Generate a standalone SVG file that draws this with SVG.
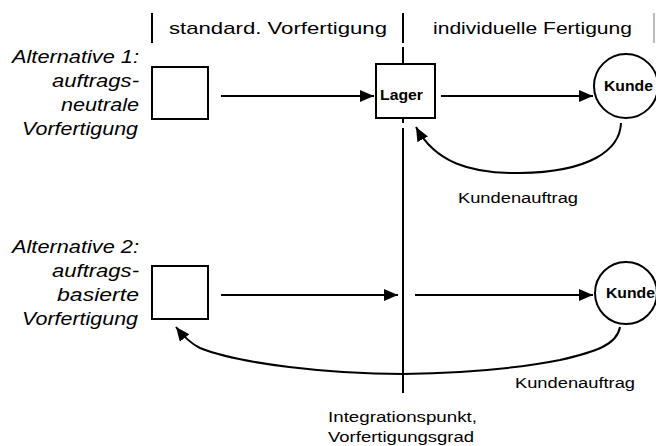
<svg xmlns="http://www.w3.org/2000/svg" width="656" height="446" viewBox="0 0 656 446">
<style>
.ln{stroke:#000;stroke-width:2;fill:none}
.bx{stroke:#000;stroke-width:2;fill:#fff}
.t{font-family:"Liberation Sans",Arial,sans-serif;fill:#000}
.it{font-family:"Liberation Sans",Arial,sans-serif;font-style:italic;font-size:18px;fill:#000}
.b{font-family:"Liberation Sans",Arial,sans-serif;font-weight:bold;fill:#000}
</style>
<defs>
<marker id="ah" markerUnits="userSpaceOnUse" markerWidth="15" markerHeight="13" refX="14" refY="6" orient="auto" viewBox="0 0 15 13">
<path d="M0,0 L14,6 L0,12 z" fill="#000"/>
</marker>
</defs>
<rect width="656" height="446" fill="#fff"/>
<g id="header">
<line class="ln" x1="152" y1="13" x2="152" y2="43"/>
<line x1="654" y1="13" x2="654" y2="43" stroke="#bbb" stroke-width="2"/>
<text class="t" x="169" y="34" font-size="17" textLength="218" lengthAdjust="spacingAndGlyphs">standard. Vorfertigung</text>
<text class="t" x="433" y="34" font-size="17" textLength="199" lengthAdjust="spacingAndGlyphs">individuelle Fertigung</text>
</g>
<g id="integrationspunkt">
<line class="ln" x1="403" y1="13" x2="403" y2="43"/>
<line class="ln" x1="403" y1="47" x2="403" y2="64"/>
<line class="ln" x1="403" y1="118" x2="403" y2="123"/>
<line class="ln" x1="403" y1="128" x2="403" y2="393"/>
<text class="t" x="328" y="422" font-size="15.5" textLength="149" lengthAdjust="spacingAndGlyphs">Integrationspunkt,</text>
<text class="t" x="328" y="442" font-size="15.5" textLength="146" lengthAdjust="spacingAndGlyphs">Vorfertigungsgrad</text>
</g>
<g id="alt1-label">
<text class="it" x="12" y="63" textLength="127" lengthAdjust="spacingAndGlyphs">Alternative 1:</text>
<text class="it" x="52" y="87" textLength="87" lengthAdjust="spacingAndGlyphs">auftrags-</text>
<text class="it" x="61" y="111" textLength="78" lengthAdjust="spacingAndGlyphs">neutrale</text>
<text class="it" x="22" y="135" textLength="116" lengthAdjust="spacingAndGlyphs">Vorfertigung</text>
</g>
<g id="alt2-label">
<text class="it" x="12" y="253" textLength="127" lengthAdjust="spacingAndGlyphs">Alternative 2:</text>
<text class="it" x="52" y="277" textLength="87" lengthAdjust="spacingAndGlyphs">auftrags-</text>
<text class="it" x="57" y="301" textLength="82" lengthAdjust="spacingAndGlyphs">basierte</text>
<text class="it" x="22" y="325" textLength="116" lengthAdjust="spacingAndGlyphs">Vorfertigung</text>
</g>
<g id="box1"><rect class="bx" x="152" y="67" width="56" height="52"/></g>
<g id="lager"><rect class="bx" x="376" y="64" width="59" height="54"/>
<text class="b" x="380" y="100" font-size="14" textLength="43" lengthAdjust="spacingAndGlyphs">Lager</text></g>
<g id="kunde1"><circle class="bx" cx="626" cy="86" r="32"/>
<text class="b" x="604" y="91" font-size="15" textLength="49" lengthAdjust="spacingAndGlyphs">Kunde</text></g>
<g id="box2"><rect class="bx" x="152" y="266" width="56" height="53"/></g>
<g id="kunde2"><circle class="bx" cx="626" cy="293" r="31"/>
<text class="b" x="606" y="298" font-size="15" textLength="49" lengthAdjust="spacingAndGlyphs">Kunde</text></g>
<g id="connectors">
<line class="ln" x1="221" y1="96" x2="374" y2="96" marker-end="url(#ah)"/>
<line class="ln" x1="441" y1="96" x2="593" y2="96" marker-end="url(#ah)"/>
<path class="ln" d="M621,123 C620,150 590,172 520,173 C470,174 435,162 416,127" marker-end="url(#ah)"/>
<text class="t" x="458" y="203" font-size="15.5" textLength="120" lengthAdjust="spacingAndGlyphs">Kundenauftrag</text>
<line class="ln" x1="221" y1="295" x2="398" y2="295" marker-end="url(#ah)"/>
<line class="ln" x1="415" y1="295" x2="593" y2="295" marker-end="url(#ah)"/>
<path class="ln" d="M620,327 C617,345 595,352 560,360 C520,368 460,373 403,374 C330,374 240,364 200,348 C190,343 183,336 176,327" marker-end="url(#ah)"/>
<text class="t" x="515" y="388" font-size="15.5" textLength="120" lengthAdjust="spacingAndGlyphs">Kundenauftrag</text>
</g>
</svg>
